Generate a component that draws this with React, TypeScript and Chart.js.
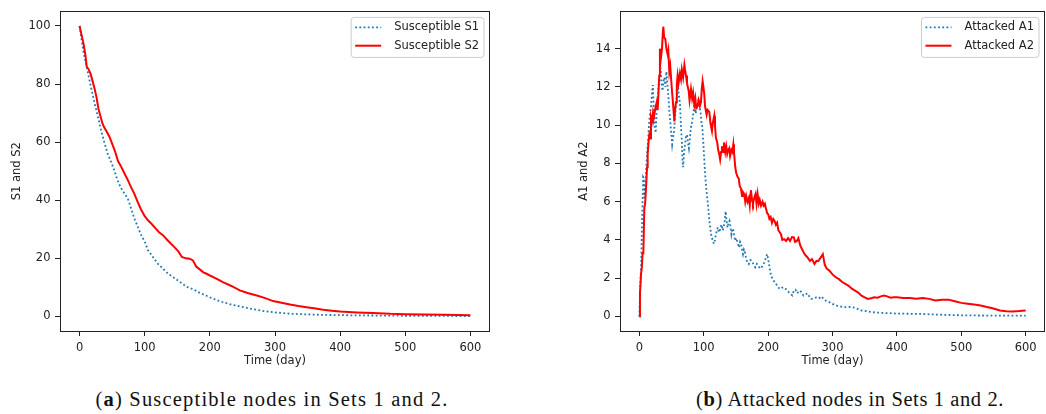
import React, { useEffect, useRef } from 'react';
import { Chart, registerables } from 'chart.js';

Chart.register(...registerables);

// ---------- data ----------
const xTicks = [0, 100, 200, 300, 400, 500, 600];
const sTicks = [0, 20, 40, 60, 80, 100];
const aTicks = [0, 2, 4, 6, 8, 10, 12, 14];

const s1Days = [0, 3, 6, 9, 12, 16, 20, 24, 28, 33, 38, 43, 48, 53, 58, 63, 69, 74, 78, 84, 90, 95, 100, 105, 110, 120, 130, 136, 145, 151, 158, 166, 175, 183, 190, 200, 210, 220, 233, 246, 260, 272, 285, 300, 323, 350, 374, 400, 440, 480, 520, 560, 600];
const s1Vals = [100, 95.5, 91, 88, 84.8, 80.5, 76.5, 72.5, 69, 64.1, 60, 56.1, 53.5, 50.5, 47, 44.5, 42.3, 40.6, 38, 33.8, 30.5, 27.8, 25.8, 22.8, 21.3, 18.2, 16, 14.7, 13.3, 12.4, 11.2, 10.1, 9.3, 8.3, 7.6, 6.6, 5.7, 4.9, 4.1, 3.45, 2.8, 2.3, 1.8, 1.4, 0.95, 0.7, 0.55, 0.45, 0.35, 0.28, 0.22, 0.18, 0.15];

const s2Days = [0, 3, 6, 9, 11, 14, 17, 20, 23, 26, 29, 32, 35, 38, 42, 46, 50, 55, 59, 64, 69, 74, 79, 84, 89, 94, 100, 105, 110, 116, 122, 128, 134, 140, 146, 152, 157, 163, 169, 174, 179, 184, 190, 195, 200, 210, 220, 233, 246, 258, 272, 285, 297, 310, 323, 336, 348, 360, 374, 387, 400, 425, 450, 477, 500, 528, 560, 600];
const s2Vals = [100, 97, 94, 90, 86, 85, 83.5, 81, 78.5, 75.5, 71.5, 69, 66.5, 65, 63.5, 61.8, 59.5, 56.5, 53.5, 51.5, 49.2, 47, 44.5, 42.3, 39.5, 37, 34.5, 33.1, 32, 30.5, 29, 28, 26.5, 25.1, 23.8, 22.3, 20.5, 20, 19.9, 19.3, 17.2, 16.3, 15.2, 14.7, 14.1, 13, 11.8, 10.5, 9, 8.1, 7.2, 6.3, 5.3, 4.7, 4.1, 3.6, 3.2, 2.8, 2.3, 2.0, 1.7, 1.4, 1.2, 0.92, 0.8, 0.7, 0.55, 0.46];

const a1Days = [0, 1.5, 3, 4, 5, 6, 7, 8, 9, 10.5, 12, 13.5, 15, 16.5, 18, 19.5, 21, 22.5, 24, 25.5, 27, 28.5, 30, 31.5, 33, 34.5, 36, 37.5, 39, 40.5, 42, 43.5, 45, 46.5, 48, 49.5, 51, 52.5, 54, 55.5, 57, 58.5, 60, 61.5, 63, 64.5, 66, 67, 68, 69.5, 71, 72.5, 74, 75.5, 77, 78.5, 80, 81.5, 83, 84.5, 86, 87.5, 89, 90.5, 92, 93.5, 95, 96.5, 98, 99.5, 101, 102.5, 104, 105.5, 107, 108.5, 110, 111.5, 113, 114.5, 116, 117.5, 119, 120.5, 122, 123.5, 125, 126.5, 128, 129.5, 131, 132.5, 134, 135.5, 137, 138.5, 140, 141.5, 143, 144.5, 146, 147.5, 149, 150.5, 152, 153.5, 155, 156.5, 158, 159.5, 161, 162.5, 164, 165.5, 167, 168.5, 170, 172.5, 175, 177.5, 180, 182.5, 185, 187.5, 190, 192.5, 195, 197, 198.5, 200, 201.5, 203, 204.5, 206.5, 208.5, 210.5, 212.5, 215, 218, 221, 224, 227, 230, 232.5, 235, 237.5, 240, 242.5, 245, 247.5, 250, 252.5, 255, 258, 261, 264, 267, 271, 275, 279, 283, 287, 291, 295, 300, 305, 310, 315, 320, 325, 330, 335, 340, 345, 350, 360, 370, 380, 390, 400, 420, 440, 460, 480, 500, 530, 560, 600];
const a1Vals = [0, 1.5, 2.9, 4.5, 6.0, 7.3, 7.25, 6.2, 6.7, 7.6, 8.5, 9.1, 10.0, 10.6, 10.9, 11.6, 12.1, 10.8, 9.85, 9.6, 10.9, 11.4, 12.1, 12.5, 13.0, 12.2, 11.8, 12.3, 12.5, 12.0, 12.8, 12.2, 11.6, 10.8, 10.2, 9.6, 9.0, 9.4, 9.7, 10.4, 11.2, 11.6, 12.1, 11.5, 11.2, 10.1, 9.2, 8.2, 7.8, 8.6, 9.0, 9.4, 9.5, 9.1, 8.8, 9.3, 9.85, 10.1, 10.4, 10.8, 11.2, 10.6, 10.9, 11.1, 11.4, 11.0, 10.7, 10.2, 9.85, 9.0, 8.1, 7.3, 6.7, 6.2, 5.7, 5.1, 4.65, 4.3, 4.1, 3.9, 3.8, 4.0, 4.3, 4.5, 4.65, 4.4, 4.5, 4.7, 4.8, 4.5, 4.65, 5.0, 5.5, 5.0, 4.65, 4.9, 5.0, 4.7, 4.3, 4.6, 4.5, 4.2, 3.95, 4.1, 3.95, 3.8, 3.6, 3.9, 3.8, 3.5, 3.26, 3.5, 3.4, 3.1, 2.9, 2.8, 2.74, 2.95, 2.9, 2.7, 2.57, 2.75, 2.65, 2.5, 2.57, 2.7, 2.9, 3.1, 3.26, 3.0, 2.74, 2.4, 2.13, 2.0, 1.87, 1.8, 1.7, 1.55, 1.44, 1.5, 1.53, 1.45, 1.35, 1.25, 1.18, 1.1, 1.35, 1.4, 1.21, 1.3, 1.35, 1.2, 1.09, 1.15, 1.21, 1.05, 0.92, 0.95, 1.0, 0.95, 1.05, 0.87, 0.8, 0.75, 0.66, 0.57, 0.55, 0.5, 0.49, 0.5, 0.49, 0.45, 0.38, 0.31, 0.3, 0.23, 0.2, 0.18, 0.17, 0.15, 0.14, 0.13, 0.1, 0.08, 0.06, 0.05, 0.04, 0.04];

const a2Days = [0, 1, 2.6, 4, 5, 6.3, 7.8, 9, 10.4, 12, 13, 14.5, 15.6, 17, 18.1, 19.5, 21, 22, 23.3, 25, 27, 28.5, 30, 31, 32, 33.5, 35.2, 36.5, 37.3, 38.5, 40.4, 42, 44, 45, 46.6, 48, 50.7, 52, 54.4, 55.5, 57, 58.2, 59.5, 61, 63, 64.7, 66, 68, 70, 71, 72.5, 74, 76.6, 78, 80.2, 82, 83.5, 85.4, 87, 88.5, 90.5, 92, 94, 95.7, 97, 98.3, 99.5, 100.9, 102, 104.5, 106, 108.7, 110.5, 112.8, 114, 116.4, 117.5, 119, 121, 122.5, 124, 125.5, 127, 128.3, 130, 131.5, 133.5, 135, 136.5, 138, 139.7, 141, 143, 144.5, 146, 147, 149, 150.5, 152.6, 154.5, 156, 157.8, 159.5, 161, 163, 164.5, 166, 168, 170, 171.5, 173.3, 175, 176.5, 178.5, 180.5, 182, 183.7, 185.5, 187, 189, 191.4, 193, 195, 197, 198.5, 200.2, 202, 204, 206, 208, 210, 212, 214, 216, 218, 220, 222, 225, 228, 231, 234, 237, 240, 242, 245, 247, 250, 253, 256, 258, 261, 265, 268, 272, 275, 278, 282, 285, 288, 291, 295, 300, 305, 310, 315, 320, 325, 330, 335, 340, 345, 350, 355, 360, 365, 370, 375, 380, 385, 390, 395, 400, 410, 420, 430, 440, 450, 460, 470, 480, 490, 500, 510, 520, 530, 540, 550, 560, 570, 580, 590, 600];
const a2Vals = [0, 1.2, 2.2, 2.6, 3.3, 3.3, 5.7, 5.9, 6.7, 7.8, 8.5, 9.2, 9.5, 9.3, 10.4, 10.2, 10.6, 10.3, 10.55, 10.9, 11.2, 10.8, 11.9, 12.6, 14.0, 13.5, 14.0, 14.8, 15.15, 14.6, 14.5, 14.0, 13.7, 13.9, 12.8, 13.1, 11.8, 11.3, 10.2, 10.8, 11.2, 12.1, 12.6, 12.2, 12.7, 12.4, 12.9, 12.5, 13.15, 12.9, 12.6, 12.2, 11.8, 11.3, 11.9, 11.4, 11.7, 11.07, 11.4, 10.9, 11.0, 11.3, 11.0, 11.2, 11.9, 12.3, 12.0, 11.6, 11.0, 10.55, 10.8, 10.7, 10.1, 9.7, 10.1, 10.5, 10.0, 9.33, 9.1, 8.7, 8.5, 8.2, 8.6, 8.9, 8.6, 9.1, 8.6, 8.9, 8.5, 8.7, 8.8, 8.4, 8.7, 8.6, 9.0, 8.6, 7.8, 7.5, 7.3, 7.2, 6.8, 6.7, 6.3, 6.5, 6.4, 6.0, 6.3, 6.0, 6.2, 5.8, 6.6, 6.1, 5.9, 6.2, 6.4, 5.9, 6.4, 5.9, 6.1, 5.8, 6.0, 5.8, 5.9, 5.6, 5.4, 5.34, 5.1, 5.2, 4.9, 5.1, 5.0, 4.8, 4.9, 4.5, 4.4, 4.3, 4.0, 4.04, 3.95, 4.1, 3.95, 4.15, 4.13, 3.9, 3.96, 4.1, 3.7, 3.5, 3.3, 3.2, 3.1, 2.9, 3.0, 2.74, 2.9, 2.9, 3.1, 3.26, 2.7, 2.5, 2.4, 2.2, 2.05, 1.95, 1.8, 1.7, 1.6, 1.45, 1.35, 1.25, 1.09, 1.0, 0.92, 0.95, 1.0, 0.98, 1.05, 1.09, 1.05, 0.98, 1.0, 1.0, 0.97, 0.97, 0.93, 0.97, 0.92, 0.83, 0.87, 0.88, 0.8, 0.71, 0.67, 0.62, 0.57, 0.49, 0.42, 0.31, 0.27, 0.26, 0.28, 0.31];

// ---------- styling ----------
const FONT = '"DejaVu Sans", sans-serif';
const FS = 11.5;
const INK = '#222222';
const BLUE = '#1f77b4';
const RED = '#ff0000';
const DOT = [1.8, 2.4];

type LegendItem = { label: string; color: string; dash: number[]; width: number };

function frameAndLegend(items: LegendItem[]) {
  return {
    id: 'mplFrameLegend',
    afterDatasetsDraw(chart: any) {
      const ctx = chart.ctx as CanvasRenderingContext2D;
      const ca = chart.chartArea;
      ctx.save();
      ctx.strokeStyle = INK;
      ctx.lineWidth = 1;
      ctx.setLineDash([]);
      ctx.strokeRect(Math.round(ca.left) + 0.5, Math.round(ca.top) + 0.5, Math.round(ca.right - ca.left) - 1, Math.round(ca.bottom - ca.top));
      ctx.font = `${FS}px ${FONT}`;
      const tw = Math.max(...items.map((i) => ctx.measureText(i.label).width));
      const w = 43 + tw + 5;
      const h = 40;
      const x = ca.right - 6 - w;
      const y = ca.top + 6;
      ctx.beginPath();
      const r = 3;
      ctx.moveTo(x + r, y);
      ctx.arcTo(x + w, y, x + w, y + h, r);
      ctx.arcTo(x + w, y + h, x, y + h, r);
      ctx.arcTo(x, y + h, x, y, r);
      ctx.arcTo(x, y, x + w, y, r);
      ctx.closePath();
      ctx.fillStyle = 'rgba(255,255,255,0.8)';
      ctx.fill();
      ctx.strokeStyle = '#cccccc';
      ctx.stroke();
      items.forEach((it, k) => {
        const cy = y + 10 + k * 18.3;
        ctx.beginPath();
        ctx.strokeStyle = it.color;
        ctx.lineWidth = it.width;
        ctx.setLineDash(it.dash);
        ctx.moveTo(x + 4, cy);
        ctx.lineTo(x + 30, cy);
        ctx.stroke();
        ctx.setLineDash([]);
        ctx.fillStyle = INK;
        ctx.textBaseline = 'middle';
        ctx.textAlign = 'left';
        ctx.fillText(it.label, x + 43, cy);
      });
      ctx.restore();
    },
  };
}

type Series = { label: string; days: number[]; vals: number[]; color: string; dash: number[]; width: number; order: number };

type PanelProps = {
  left: number;
  width: number;
  yAxisWidth: number;
  rightPad: number;
  yTitle: string;
  yTitlePad: number;
  yMin: number;
  yMax: number;
  yTicks: number[];
  series: Series[];
};

const CANVAS_H = 372;
const PLOT_BOTTOM = 331;

function Panel(p: PanelProps) {
  const ref = useRef<HTMLCanvasElement | null>(null);
  useEffect(() => {
    if (!ref.current) return;
    const font = { family: FONT, size: FS };
    const chart = new Chart(ref.current, {
      type: 'line',
      data: {
        datasets: p.series.map((s) => ({
          label: s.label,
          data: s.days.map((d, i) => ({ x: d, y: s.vals[i] })),
          borderColor: s.color,
          borderWidth: s.width,
          borderDash: s.dash,
          pointRadius: 0,
          tension: 0,
          fill: false,
          order: s.order,
        })),
      },
      options: {
        animation: false,
        responsive: false,
        devicePixelRatio: 1,
        layout: { padding: { left: 0, right: p.rightPad, top: 11, bottom: 0 } },
        plugins: { legend: { display: false }, tooltip: { enabled: false } },
        scales: {
          x: {
            type: 'linear',
            min: -30,
            max: 630,
            afterBuildTicks: (s: any) => {
              s.ticks = xTicks.map((v) => ({ value: v }));
            },
            afterFit: (s: any) => {
              s.height = CANVAS_H - PLOT_BOTTOM;
            },
            ticks: { font, color: INK, padding: 5.5, maxRotation: 0, autoSkip: false },
            grid: { drawOnChartArea: false, drawTicks: true, tickLength: 5, color: INK, lineWidth: 1 },
            border: { display: false },
            title: { display: true, text: 'Time (day)', font, color: INK, padding: { top: 0, bottom: 4 } },
          },
          y: {
            type: 'linear',
            min: p.yMin,
            max: p.yMax,
            afterBuildTicks: (s: any) => {
              s.ticks = p.yTicks.map((v) => ({ value: v }));
            },
            afterFit: (s: any) => {
              s.width = p.yAxisWidth;
            },
            ticks: { font, color: INK, padding: 4.5, autoSkip: false },
            grid: { drawOnChartArea: false, drawTicks: true, tickLength: 5, color: INK, lineWidth: 1 },
            border: { display: false },
            title: { display: true, text: p.yTitle, font, color: INK, padding: { top: p.yTitlePad, bottom: 0 } },
          },
        },
      },
      plugins: [
        frameAndLegend(
          p.series
            .slice()
            .sort((a, b) => b.order - a.order)
            .map((s) => ({ label: s.label, color: s.color, dash: s.dash, width: s.width }))
        ),
      ],
    } as any);
    return () => chart.destroy();
  }, []);
  return (
    <canvas
      ref={ref}
      width={p.width}
      height={CANVAS_H}
      style={{ position: 'absolute', left: p.left, top: 0, width: p.width, height: CANVAS_H, display: 'block' }}
    />
  );
}

const captionStyle: React.CSSProperties = {
  position: 'absolute',
  top: 387,
  fontFamily: '"Liberation Serif", "DejaVu Serif", serif',
  fontSize: 20.5,
  letterSpacing: 1.2,
  color: '#111',
  whiteSpace: 'nowrap',
  transform: 'translateX(-50%)',
  lineHeight: '24px',
};

export default function App() {
  return (
    <div style={{ position: 'absolute', left: 0, top: 0, width: 1046, height: 414, background: '#fff', overflow: 'hidden' }}>
      <Panel
        left={0}
        width={520}
        yAxisWidth={60}
        rightPad={30}
        yTitle="S1 and S2"
        yTitlePad={10}
        yMin={-5}
        yMax={105}
        yTicks={sTicks}
        series={[
          { label: 'Susceptible S1', days: s1Days, vals: s1Vals, color: BLUE, dash: DOT, width: 1.8, order: 1 },
          { label: 'Susceptible S2', days: s2Days, vals: s2Vals, color: RED, dash: [], width: 2, order: 0 },
        ]}
      />
      <Panel
        left={520}
        width={526}
        yAxisWidth={100}
        rightPad={1}
        yTitle="A1 and A2"
        yTitlePad={57}
        yMin={-0.76}
        yMax={15.95}
        yTicks={aTicks}
        series={[
          { label: 'Attacked A1', days: a1Days, vals: a1Vals, color: BLUE, dash: DOT, width: 1.8, order: 1 },
          { label: 'Attacked A2', days: a2Days, vals: a2Vals, color: RED, dash: [], width: 2, order: 0 },
        ]}
      />
      <div style={{ ...captionStyle, left: 272 }}>
        (<b>a</b>) Susceptible nodes in Sets 1 and 2.
      </div>
      <div style={{ ...captionStyle, left: 850, letterSpacing: 0.6 }}>
        (<b>b</b>) Attacked nodes in Sets 1 and 2.
      </div>
    </div>
  );
}
